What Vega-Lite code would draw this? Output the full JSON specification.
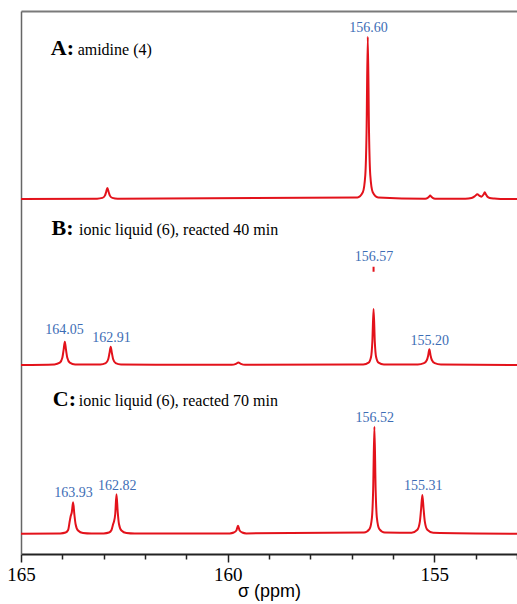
{
  "$schema": "https://vega.github.io/schema/vega-lite/v6.json",
  "width": 496,
  "height": 543,
  "autosize": "none",
  "padding": {"left": 21, "top": 11, "right": 0, "bottom": 50},
  "background": "white",
  "config": {
    "view": {"stroke": null},
    "axis": {"grid": false}
  },
  "resolve": {"axis": {"x": "independent"}},
  "datasets": {
    "spectra": [
      {"s": "A", "x": 165, "y": 355},
      {"s": "A", "x": 163.16, "y": 355.3},
      {"s": "A", "x": 163.03, "y": 356.1},
      {"s": "A", "x": 162.97, "y": 358.4},
      {"s": "A", "x": 162.94, "y": 362},
      {"s": "A", "x": 162.91, "y": 366},
      {"s": "A", "x": 162.88, "y": 362},
      {"s": "A", "x": 162.85, "y": 358.4},
      {"s": "A", "x": 162.79, "y": 356.1},
      {"s": "A", "x": 162.66, "y": 355.3},
      {"s": "A", "x": 156.86, "y": 356.6},
      {"s": "A", "x": 156.73, "y": 361.8},
      {"s": "A", "x": 156.67, "y": 379},
      {"s": "A", "x": 156.64, "y": 421.5},
      {"s": "A", "x": 156.61, "y": 517.3},
      {"s": "A", "x": 156.58, "y": 421.5},
      {"s": "A", "x": 156.55, "y": 379},
      {"s": "A", "x": 156.49, "y": 361.8},
      {"s": "A", "x": 156.36, "y": 356.6},
      {"s": "A", "x": 155.22, "y": 355.35},
      {"s": "A", "x": 155.16, "y": 356.1},
      {"s": "A", "x": 155.13, "y": 357.2},
      {"s": "A", "x": 155.1, "y": 358.5},
      {"s": "A", "x": 155.07, "y": 357.2},
      {"s": "A", "x": 155.04, "y": 356.1},
      {"s": "A", "x": 154.98, "y": 355.35},
      {"s": "A", "x": 154.25, "y": 355.2},
      {"s": "A", "x": 154.1, "y": 356},
      {"s": "A", "x": 154.02, "y": 357.8},
      {"s": "A", "x": 153.96, "y": 359.7},
      {"s": "A", "x": 153.9, "y": 358},
      {"s": "A", "x": 153.86, "y": 357.3},
      {"s": "A", "x": 153.81, "y": 359.5},
      {"s": "A", "x": 153.78, "y": 361.7},
      {"s": "A", "x": 153.75, "y": 359.5},
      {"s": "A", "x": 153.72, "y": 357.5},
      {"s": "A", "x": 153.66, "y": 356},
      {"s": "A", "x": 153.55, "y": 355.4},
      {"s": "A", "x": 153.4, "y": 355.1},
      {"s": "A", "x": 153, "y": 355},

      {"s": "B", "x": 165, "y": 189},
      {"s": "B", "x": 164.19, "y": 189.6},
      {"s": "B", "x": 164.06, "y": 191.3},
      {"s": "B", "x": 164.0, "y": 196.2},
      {"s": "B", "x": 163.97, "y": 203.9},
      {"s": "B", "x": 163.94, "y": 212.3},
      {"s": "B", "x": 163.91, "y": 203.9},
      {"s": "B", "x": 163.88, "y": 196.2},
      {"s": "B", "x": 163.82, "y": 191.3},
      {"s": "B", "x": 163.69, "y": 189.6},
      {"s": "B", "x": 163.08, "y": 189.5},
      {"s": "B", "x": 162.95, "y": 190.8},
      {"s": "B", "x": 162.89, "y": 194.7},
      {"s": "B", "x": 162.86, "y": 200.7},
      {"s": "B", "x": 162.83, "y": 207.3},
      {"s": "B", "x": 162.8, "y": 200.7},
      {"s": "B", "x": 162.77, "y": 194.7},
      {"s": "B", "x": 162.71, "y": 190.8},
      {"s": "B", "x": 162.58, "y": 189.5},
      {"s": "B", "x": 159.9, "y": 189.2},
      {"s": "B", "x": 159.8, "y": 190.2},
      {"s": "B", "x": 159.74, "y": 191.5},
      {"s": "B", "x": 159.68, "y": 190.2},
      {"s": "B", "x": 159.58, "y": 189.2},
      {"s": "B", "x": 156.72, "y": 189.6},
      {"s": "B", "x": 156.59, "y": 191.4},
      {"s": "B", "x": 156.53, "y": 197.3},
      {"s": "B", "x": 156.5, "y": 212},
      {"s": "B", "x": 156.47, "y": 245},
      {"s": "B", "x": 156.44, "y": 212},
      {"s": "B", "x": 156.41, "y": 197.3},
      {"s": "B", "x": 156.35, "y": 191.4},
      {"s": "B", "x": 156.22, "y": 189.6},
      {"s": "B", "x": 155.4, "y": 189.6},
      {"s": "B", "x": 155.25, "y": 190.9},
      {"s": "B", "x": 155.18, "y": 194},
      {"s": "B", "x": 155.15, "y": 198.3},
      {"s": "B", "x": 155.12, "y": 204.7},
      {"s": "B", "x": 155.09, "y": 198.3},
      {"s": "B", "x": 155.06, "y": 194},
      {"s": "B", "x": 154.99, "y": 190.9},
      {"s": "B", "x": 154.84, "y": 189.6},
      {"s": "B", "x": 153, "y": 189},

      {"s": "Btop", "x": 156.47, "y": 282.3},
      {"s": "Btop", "x": 156.4699, "y": 287.3},

      {"s": "C", "x": 165, "y": 20.3},
      {"s": "C", "x": 164.05, "y": 20.6},
      {"s": "C", "x": 163.92, "y": 21.5},
      {"s": "C", "x": 163.86, "y": 24},
      {"s": "C", "x": 163.82, "y": 33},
      {"s": "C", "x": 163.8, "y": 37.5},
      {"s": "C", "x": 163.77, "y": 42},
      {"s": "C", "x": 163.74, "y": 51.7},
      {"s": "C", "x": 163.71, "y": 40},
      {"s": "C", "x": 163.68, "y": 30},
      {"s": "C", "x": 163.62, "y": 23.5},
      {"s": "C", "x": 163.5, "y": 21},
      {"s": "C", "x": 163.3, "y": 20.5},
      {"s": "C", "x": 163.0, "y": 20.6},
      {"s": "C", "x": 162.87, "y": 21.5},
      {"s": "C", "x": 162.81, "y": 24},
      {"s": "C", "x": 162.77, "y": 30},
      {"s": "C", "x": 162.75, "y": 32.5},
      {"s": "C", "x": 162.72, "y": 40},
      {"s": "C", "x": 162.69, "y": 59.7},
      {"s": "C", "x": 162.66, "y": 42},
      {"s": "C", "x": 162.63, "y": 30},
      {"s": "C", "x": 162.57, "y": 23.5},
      {"s": "C", "x": 162.45, "y": 21},
      {"s": "C", "x": 162.25, "y": 20.5},
      {"s": "C", "x": 159.95, "y": 20.6},
      {"s": "C", "x": 159.85, "y": 21.5},
      {"s": "C", "x": 159.79, "y": 23.5},
      {"s": "C", "x": 159.75, "y": 28.3},
      {"s": "C", "x": 159.71, "y": 23.5},
      {"s": "C", "x": 159.65, "y": 21.5},
      {"s": "C", "x": 159.55, "y": 20.6},
      {"s": "C", "x": 156.7, "y": 21.4},
      {"s": "C", "x": 156.57, "y": 24.8},
      {"s": "C", "x": 156.51, "y": 36.1},
      {"s": "C", "x": 156.48, "y": 64.2},
      {"s": "C", "x": 156.45, "y": 127.3},
      {"s": "C", "x": 156.42, "y": 64.2},
      {"s": "C", "x": 156.39, "y": 36.1},
      {"s": "C", "x": 156.33, "y": 24.8},
      {"s": "C", "x": 156.2, "y": 21.4},
      {"s": "C", "x": 155.55, "y": 21.3},
      {"s": "C", "x": 155.41, "y": 24.2},
      {"s": "C", "x": 155.35, "y": 32.3},
      {"s": "C", "x": 155.32, "y": 45},
      {"s": "C", "x": 155.29, "y": 59},
      {"s": "C", "x": 155.26, "y": 45},
      {"s": "C", "x": 155.23, "y": 32.3},
      {"s": "C", "x": 155.17, "y": 24.2},
      {"s": "C", "x": 155.03, "y": 21.3},
      {"s": "C", "x": 153, "y": 20.3}
    ],
    "peaks": [
      {"label": "156.60", "x": 156.59, "y": 522.3},
      {"label": "164.05", "x": 163.945, "y": 220},
      {"label": "162.91", "x": 162.81, "y": 212.3},
      {"label": "156.57", "x": 156.46, "y": 293.3},
      {"label": "155.20", "x": 155.11, "y": 209},
      {"label": "163.93", "x": 163.73, "y": 57.3},
      {"label": "162.82", "x": 162.67, "y": 64},
      {"label": "156.52", "x": 156.44, "y": 131.7},
      {"label": "155.31", "x": 155.27, "y": 64}
    ],
    "panels": [
      {"key": "A:", "desc": "amidine (4)", "xk": 164.28, "xd": 163.63, "y": 499},
      {"key": "B:", "desc": "ionic liquid (6), reacted 40 min", "xk": 164.26, "xd": 163.595, "y": 319},
      {"key": "C:", "desc": "ionic liquid (6), reacted 70 min", "xk": 164.23, "xd": 163.6, "y": 148}
    ]
  },
  "layer": [
    {
      "data": {"name": "spectra"},
      "mark": {"type": "line", "color": "#e3121b", "strokeWidth": 2, "interpolate": "monotone", "clip": true},
      "encoding": {
        "x": {
          "field": "x", "type": "quantitative",
          "scale": {"domain": [153, 165], "reverse": true, "nice": false, "zero": false},
          "axis": {
            "orient": "bottom",
            "values": [165, 164, 163, 162, 161, 160, 159, 158, 157, 156, 155, 154, 153],
            "labelExpr": "datum.value % 5 === 0 ? datum.label : ''",
            "tickSize": {"condition": {"test": "datum.value % 5 === 0", "value": 8}, "value": 5},
            "tickColor": "#222222",
            "tickWidth": 1.5,
            "domainColor": "#222222",
            "domainWidth": 2,
            "labelFont": "Liberation Serif",
            "labelFontSize": 19,
            "labelColor": "#000000",
            "labelPadding": 3,
            "labelFlush": false,
            "title": "σ (ppm)",
            "titleFont": "Liberation Sans",
            "titleFontSize": 18,
            "titleFontWeight": "normal",
            "titleColor": "#000000",
            "titlePadding": -2
          }
        },
        "y": {
          "field": "y", "type": "quantitative",
          "scale": {"domain": [0, 543], "nice": false, "zero": false},
          "axis": {"orient": "left", "labels": false, "ticks": false, "title": null, "domainColor": "#666666", "domainWidth": 1.5}
        },
        "detail": {"field": "s"}
      }
    },
    {
      "data": {"name": "peaks"},
      "mark": {"type": "text", "font": "Liberation Serif", "fontSize": 14, "color": "#3d6db5", "align": "center", "baseline": "alphabetic"},
      "encoding": {
        "x": {"field": "x", "type": "quantitative",
          "axis": {"orient": "top", "labels": false, "ticks": false, "title": null, "domainColor": "#7a7a7a", "domainWidth": 2}},
        "y": {"field": "y", "type": "quantitative",
          "axis": {"orient": "left", "labels": false, "ticks": false, "title": null, "domainColor": "#666666", "domainWidth": 1.5}},
        "text": {"field": "label"}
      }
    },
    {
      "data": {"name": "panels"},
      "mark": {"type": "text", "font": "Liberation Serif", "fontSize": 22, "fontWeight": "bold", "color": "#000000", "align": "left", "baseline": "alphabetic"},
      "encoding": {
        "x": {"field": "xk", "type": "quantitative", "axis": null},
        "y": {"field": "y", "type": "quantitative",
          "axis": {"orient": "left", "labels": false, "ticks": false, "title": null, "domainColor": "#666666", "domainWidth": 1.5}},
        "text": {"field": "key"}
      }
    },
    {
      "data": {"name": "panels"},
      "mark": {"type": "text", "font": "Liberation Serif", "fontSize": 16, "color": "#000000", "align": "left", "baseline": "alphabetic"},
      "encoding": {
        "x": {"field": "xd", "type": "quantitative", "axis": null},
        "y": {"field": "y", "type": "quantitative",
          "axis": {"orient": "left", "labels": false, "ticks": false, "title": null, "domainColor": "#666666", "domainWidth": 1.5}},
        "text": {"field": "desc"}
      }
    }
  ]
}
